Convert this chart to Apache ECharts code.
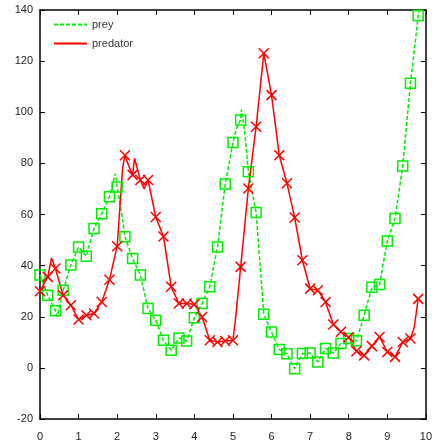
<!DOCTYPE html>
<html>
<head>
<meta charset="utf-8">
<script src="https://cdn.jsdelivr.net/npm/echarts@6/dist/echarts.min.js"></script>
<style>
  html, body { margin: 0; padding: 0; background: #fff; }
  #container { width: 435px; height: 442px; }
</style>
</head>
<body>
<div id="container"></div>
<script>
// sample times where the markers sit
const markTime = [0, 0.2, 0.4, 0.6, 0.8, 1.0, 1.2, 1.4, 1.6, 1.8,
    2.0, 2.2, 2.4, 2.6, 2.8, 3.0, 3.2, 3.4, 3.6, 3.8,
    4.0, 4.2, 4.4, 4.6, 4.8, 5.0, 5.2, 5.4, 5.6, 5.8,
    6.0, 6.2, 6.4, 6.6, 6.8, 7.0, 7.2, 7.4, 7.6, 7.8,
    8.0, 8.2, 8.4, 8.6, 8.8, 9.0, 9.2, 9.4, 9.6, 9.8];

const preyMarks = [36.3, 28.4, 22.3, 30.4, 40.2, 47.3, 43.7, 54.5, 60.3, 66.9,
    70.8, 51.3, 42.8, 36.3, 23.2, 18.6, 10.8, 6.9, 11.7, 10.5,
    19.6, 25.2, 31.7, 47.3, 71.9, 88.2, 97, 76.7, 60.8, 21,
    14, 7.2, 5.5, -0.3, 5.6, 5.8, 2.3, 7.6, 5.8, 9.5,
    11.5, 10.6, 20.6, 31.5, 32.6, 49.6, 58.4, 79, 111.3, 137.8];

const predatorMarks = [30, 35.6, 38.9, 28.4, 24.5, 18.9, 20.6, 21.3, 25.8, 34.5,
    47.6, 83.2, 75.5, 73.5, 73.5, 59, 51.4, 31.7, 25.2, 25.2,
    24.9, 19.9, 10.8, 10.1, 10.5, 10.8, 39.5, 70.2, 94.3, 123.1,
    106.7, 83.2, 72.2, 58.8, 42.1, 31, 30.4, 25.8, 17, 14.1,
    12, 6.5, 4.9, 8.5, 12.1, 6.2, 4.3, 10.1, 11.5, 27];

// line points between markers (no symbol)
const preyLine = [[0.45, 20], [1.95, 76], [2.1, 62], [5.1, 94], [5.22, 101], [5.3, 93], [9.7, 124], [9.85, 142]];
const predatorLine = [[0.3, 43], [2.14, 78], [2.3, 79], [2.45, 82], [2.7, 70], [5.08, 21], [9.7, 16]];

const GREEN = '#00ee00';
const RED = '#ff0000';
const FONT = 'Liberation Sans';

const buildData = (times, marks, extra) => {
    let pts = times.map((t, i) => ({ value: [t, marks[i]] }));
    extra.forEach(p => pts.push({ value: p, symbol: 'none' }));
    pts.sort((a, b) => a.value[0] - b.value[0]);
    return pts;
};

const axisLine = () => ({ show: true, onZero: false, lineStyle: { color: '#000', width: 1.5 } });
const tick = () => ({ show: true, inside: true, length: 5, lineStyle: { color: '#000', width: 1 } });
const label = { color: '#222', fontSize: 11, fontFamily: FONT };

var dom = document.getElementById('container');
var myChart = echarts.init(dom, null, { renderer: 'canvas' });

myChart.setOption({
    animation: false,
    grid: { left: 40, right: 8, top: 10, bottom: 23, containLabel: false },
    legend: {
        orient: 'vertical',
        left: 48,
        top: 14,
        itemWidth: 33,
        itemHeight: 10,
        itemGap: 8,
        textStyle: { color: '#333', fontSize: 11, fontFamily: FONT },
        data: [
            { name: 'prey', itemStyle: { opacity: 0 } },
            { name: 'predator', itemStyle: { opacity: 0 } }
        ]
    },
    xAxis: [
        {
            type: 'value', min: 0, max: 10, interval: 1,
            axisLine: axisLine(), axisTick: tick(), splitLine: { show: false },
            axisLabel: Object.assign({ margin: 12 }, label)
        },
        {
            type: 'value', position: 'top', min: 0, max: 10, interval: 1,
            axisLine: axisLine(), axisTick: tick(), splitLine: { show: false },
            axisLabel: { show: false }
        }
    ],
    yAxis: [
        {
            type: 'value', min: -20, max: 140, interval: 20,
            axisLine: axisLine(), axisTick: tick(), splitLine: { show: false },
            axisLabel: Object.assign({ margin: 7 }, label)
        },
        {
            type: 'value', position: 'right', min: -20, max: 140, interval: 20,
            axisLine: axisLine(), axisTick: tick(), splitLine: { show: false },
            axisLabel: { show: false }
        }
    ],
    series: [
        {
            name: 'prey',
            type: 'line',
            data: buildData(markTime, preyMarks, preyLine),
            symbol: 'rect',
            symbolSize: 10,
            showAllSymbol: true,
            itemStyle: { color: 'transparent', borderColor: GREEN, borderWidth: 1.5 },
            lineStyle: { color: GREEN, width: 1.5, type: [4, 2] },
            emphasis: { disabled: true }
        },
        {
            name: 'predator',
            type: 'line',
            data: buildData(markTime, predatorMarks, predatorLine),
            symbol: 'path://M0,0L10,10M10,0L0,10',
            symbolSize: 10,
            showAllSymbol: true,
            itemStyle: { color: 'transparent', borderColor: RED, borderWidth: 1.5 },
            lineStyle: { color: RED, width: 1.5 },
            emphasis: { disabled: true }
        }
    ]
});
</script>
</body>
</html>
